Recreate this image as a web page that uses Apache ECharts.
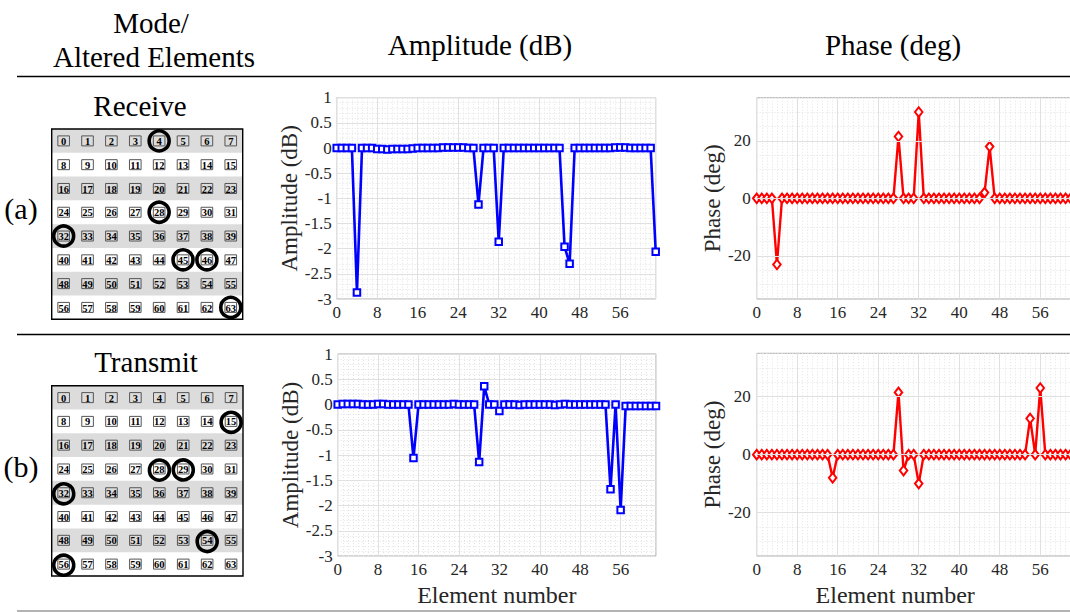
<!DOCTYPE html>
<html><head><meta charset="utf-8">
<script src="https://cdn.jsdelivr.net/npm/echarts@6/dist/echarts.min.js"></script>
<style>html,body{margin:0;padding:0;background:#fff}#c{width:1070px;height:612px}</style>
</head><body><div id="c"></div><script>
// ---------- data ----------
const elementNumbers = [0,1,2,3,4,5,6,7,8,9,10,11,12,13,14,15,16,17,18,19,20,21,22,23,24,25,26,27,28,29,30,31,
  32,33,34,35,36,37,38,39,40,41,42,43,44,45,46,47,48,49,50,51,52,53,54,55,56,57,58,59,60,61,62,63];
const receiveAltered = [4, 28, 32, 45, 46, 63];
const transmitAltered = [15, 28, 29, 32, 54, 56];
const ampReceive = [0,0,0,0,-2.87,0,0,0,
  -0.02,-0.02,-0.03,-0.02,-0.02,-0.02,-0.02,-0.01,
  0,0,0,0,0,0.01,0.01,0.01,0.01,0.01,0,0,-1.12,0,0,0,
  -1.86,0,0,0,0,0,0,0,0,0,0,0,0,-1.96,-2.30,0,
  0,0,0,0,0,0,0,0.01,0.01,0.01,0,0,0,0,0,-2.06];
const phaseReceive = [0,0,0,0,-23,0,0,0,0,0,0,0,0,0,0,0,
  0,0,0,0,0,0,0,0,0,0,0,0,21.5,0,0,0,
  30,0,0,0,0,0,0,0,0,0,0,0,0,2,18,0,
  0,0,0,0,0,0,0,0,0,0,0,0,0,0,0,0];
const ampTransmit = [0,0.01,0.01,0.01,0.01,0,0,0,0.01,0.01,0,0,0,0,0,-1.06,
  0,0,0,0,0,0,0,0.01,0,0,0,0,-1.14,0.36,0,0,
  -0.13,0,0,0,-0.01,0,0,0,0,0,0,-0.01,0,0.01,0,0,
  0,0,0,0,0,0,-1.68,0,-2.09,-0.03,-0.03,-0.03,-0.03,-0.03,-0.03,-0.03];
const phaseTransmit = [0,0,0,0,0,0,0,0,0,0,0,0,0,0,0,-8,
  0,0,0,0,0,0,0,0,0,0,0,0,21.5,-5.5,0,0,
  -10,0,0,0,0,0,0,0,0,0,0,0,0,0,0,0,
  0,0,0,0,0,0,12.5,0,23,0,0,0,0,0,0,0];
const xTicks = [0, 8, 16, 24, 32, 40, 48, 56];
const ampTicks = [1, 0.5, 0, -0.5, -1, -1.5, -2, -2.5, -3];
const phaseTicks = [-20, 0, 20];
const shadedRows = [0, 2, 4, 6];

// ---------- helpers ----------
const SERIF = 'Liberation Serif';
const pair = (arr) => arr.map((v, i) => [elementNumbers[i], v]);
const cellData = elementNumbers.map(n => [n % 8 + 0.5, Math.floor(n / 8) + 0.5, n]);
const circleData = (alt) => alt.map(n => [n % 8 + 0.5, Math.floor(n / 8) + 0.5]);

const grids = [
  {left: 51.7, top: 129, width: 191, height: 190.3},      // 0 elements a
  {left: 51.7, top: 385.7, width: 191.3, height: 190.3},  // 1 elements b
  {left: 336.7, top: 97.7, width: 319, height: 201.3},    // 2 amp a
  {left: 756.7, top: 97.7, width: 319, height: 201.3},    // 3 phase a
  {left: 337.7, top: 354, width: 318.3, height: 202},     // 4 amp b
  {left: 756.7, top: 353.3, width: 319, height: 202.7}    // 5 phase b
].map((g, i) => Object.assign({outerBoundsMode: 'none', containLabel: false,
   show: i >= 2, borderColor: '#a8a8a8', borderWidth: 1, backgroundColor: '#fff'}, g));

const xAxes = [], yAxes = [], series = [];

// element array panels
[0, 1].forEach(g => {
  xAxes.push({gridIndex: g, type: 'value', min: 0, max: 8, show: false});
  yAxes.push({gridIndex: g, type: 'value', min: 0, max: 8, inverse: true, show: false});
});
function elementPanel(g, altered) {
  series.push({
    type: 'custom', xAxisIndex: g, yAxisIndex: g, z: 1, silent: true,
    data: shadedRows.map(r => [r]),
    renderItem: (p, api) => {
      const r = api.value(0);
      const a = api.coord([0, r]), b = api.coord([8, r + 1]);
      return {type: 'rect', shape: {x: a[0], y: Math.min(a[1], b[1]), width: b[0] - a[0], height: Math.abs(b[1] - a[1])},
        style: {fill: '#dcdcdc'}};
    }
  });
  series.push({
    type: 'custom', xAxisIndex: g, yAxisIndex: g, z: 2, silent: true,
    data: cellData,
    renderItem: (p, api) => {
      const c = api.coord([api.value(0), api.value(1)]);
      return {type: 'group', children: [
        {type: 'rect', shape: {x: c[0] - 5.8, y: c[1] - 5, width: 11.6, height: 10},
          style: {fill: 'none', stroke: '#555', lineWidth: 1}},
        {type: 'text', style: {text: String(api.value(2)), x: c[0], y: c[1] + 0.6,
          align: 'center', verticalAlign: 'middle',
          fontFamily: SERIF, fontWeight: 'bold', fontSize: 10.5, fill: '#000'}}
      ]};
    }
  });
  series.push({
    type: 'custom', xAxisIndex: g, yAxisIndex: g, z: 3, silent: true,
    data: [[0, 0, 8, 8]],
    renderItem: (p, api) => {
      const a = api.coord([api.value(0), api.value(1)]), b = api.coord([api.value(2), api.value(3)]);
      return {type: 'rect', shape: {x: a[0], y: Math.min(a[1], b[1]), width: b[0] - a[0], height: Math.abs(b[1] - a[1])},
        style: {fill: 'none', stroke: '#000', lineWidth: 1.4}};
    }
  });
  series.push({
    type: 'custom', xAxisIndex: g, yAxisIndex: g, z: 4, silent: true, clip: false,
    data: circleData(altered),
    renderItem: (p, api) => {
      const c = api.coord([api.value(0), api.value(1)]);
      return {type: 'circle', shape: {cx: c[0], cy: c[1], r: 10},
        style: {fill: 'none', stroke: '#000', lineWidth: 3.6}};
    }
  });
}
elementPanel(0, receiveAltered);
elementPanel(1, transmitAltered);

const labelStyle = {fontFamily: SERIF, fontSize: 17, color: '#262626'};
const minorLine = {show: true, lineStyle: {color: '#e3e3e3', width: 1, type: [1, 2]}};
const majorLine = {show: true, lineStyle: {color: '#e0e0e0', width: 1}};

function xAxisFor(g, named) {
  const ax = {
    gridIndex: g, type: 'value', min: 0, max: 63, interval: 8,
    axisLine: {show: false}, axisTick: {show: false},
    axisLabel: Object.assign({margin: 5, showMaxLabel: false,
      formatter: v => (xTicks.indexOf(v) >= 0 ? String(v) : '')}, labelStyle),
    splitLine: majorLine,
    minorTick: {show: false, splitNumber: 8},
    minorSplitLine: minorLine
  };
  if (named) Object.assign(ax, {name: 'Element number', nameLocation: 'middle', nameGap: 27,
    nameTextStyle: {fontFamily: SERIF, fontSize: 24, color: '#262626'}});
  return ax;
}
function ampY(g) {
  return {gridIndex: g, type: 'value', min: -3, max: 1, interval: 0.5,
    axisLine: {show: false}, axisTick: {show: false},
    axisLabel: Object.assign({margin: 5, formatter: v => (ampTicks.indexOf(v) >= 0 ? String(v) : '')}, labelStyle),
    splitLine: majorLine, minorTick: {show: false, splitNumber: 5}, minorSplitLine: minorLine,
    name: 'Amplitude (dB)', nameLocation: 'middle', nameGap: 35, nameRotate: 90,
    nameTextStyle: {fontFamily: SERIF, fontSize: 23, color: '#262626'}};
}
function phaseY(g) {
  return {gridIndex: g, type: 'value', min: -35, max: 35, interval: 5,
    axisLine: {show: false}, axisTick: {show: false},
    axisLabel: Object.assign({margin: 6, formatter: v => (phaseTicks.indexOf(v) >= 0 ? String(v) : '')}, labelStyle),
    splitLine: minorLine,
    name: 'Phase (deg)', nameLocation: 'middle', nameGap: 32, nameRotate: 90,
    nameTextStyle: {fontFamily: SERIF, fontSize: 23, color: '#262626'}};
}
xAxes.push(xAxisFor(2, false)); yAxes.push(ampY(2));
xAxes.push(xAxisFor(3, false)); yAxes.push(phaseY(3));
xAxes.push(xAxisFor(4, true));  yAxes.push(ampY(4));
xAxes.push(xAxisFor(5, true));  yAxes.push(phaseY(5));
xAxes[5].nameTextStyle.padding = [0, 42, 0, 0];

function ampSeries(g, vals) {
  series.push({type: 'line', xAxisIndex: g, yAxisIndex: g, z: 3, silent: true, clip: false,
    data: pair(vals), symbol: 'rect', symbolSize: 6.5, showAllSymbol: true,
    lineStyle: {color: '#0000ff', width: 2.6},
    itemStyle: {color: '#ffffff', borderColor: '#0000ff', borderWidth: 2}});
}
function phaseSeries(g, vals) {
  series.push({type: 'line', xAxisIndex: g, yAxisIndex: g, z: 1, silent: true, data: [],
    markLine: {silent: true, symbol: 'none', label: {show: false}, animation: false,
      lineStyle: {color: '#e0e0e0', width: 1, type: 'solid'},
      data: phaseTicks.map(t => ({yAxis: t}))}});
  series.push({type: 'line', xAxisIndex: g, yAxisIndex: g, z: 3, silent: true, clip: false,
    data: pair(vals), symbol: 'diamond', symbolSize: [7.5, 9.5], showAllSymbol: true,
    lineStyle: {color: '#ff0000', width: 2.4},
    itemStyle: {color: '#ffffff', borderColor: '#ff0000', borderWidth: 2}});
}
ampSeries(2, ampReceive);
phaseSeries(3, phaseReceive);
ampSeries(4, ampTransmit);
phaseSeries(5, phaseTransmit);

function txt(text, x, y, size) {
  return {type: 'text', silent: true, z: 10, x, y,
    style: {text, fontFamily: SERIF, fontSize: size, fill: '#000',
      align: 'center', verticalAlign: 'middle'}};
}
function hline(y, color, w) {
  return {type: 'line', silent: true, z: 10, shape: {x1: 17, y1: y, x2: 1070, y2: y},
    style: {stroke: color, lineWidth: w}};
}

const chart = echarts.init(document.getElementById('c'), null, {renderer: 'svg'});
chart.setOption({
  animation: false,
  backgroundColor: '#ffffff',
  grid: grids, xAxis: xAxes, yAxis: yAxes, series,
  graphic: [
    txt('Mode/', 151, 23, 29),
    txt('Altered Elements', 154, 57, 29),
    txt('Amplitude (dB)', 480, 45, 29),
    txt('Phase (deg)', 893, 45, 29),
    txt('Receive', 140, 106, 29),
    txt('Transmit', 146, 362, 29),
    txt('(a)', 21, 208, 30),
    txt('(b)', 21, 466, 30),
    hline(76.5, '#000', 1.3),
    hline(334.5, '#000', 1.3),
    hline(611, '#9a9a9a', 1.3)
  ]
});
</script></body></html>
